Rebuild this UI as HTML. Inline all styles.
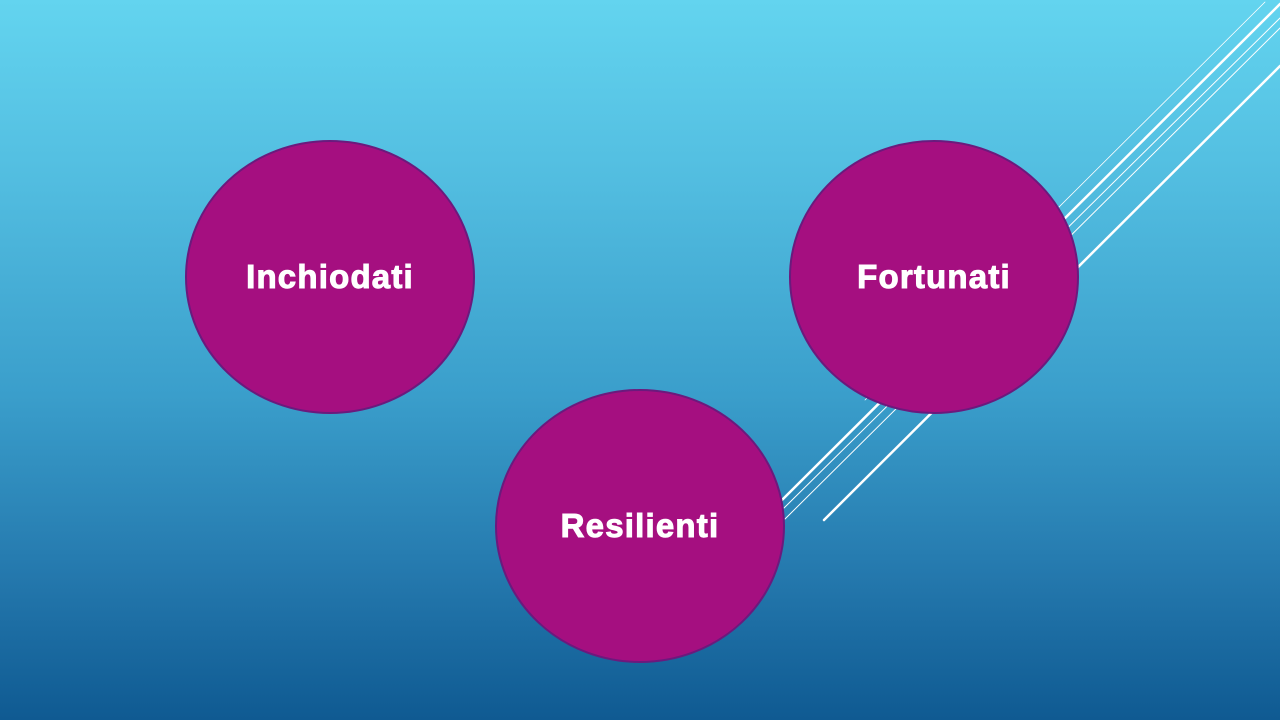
<!DOCTYPE html>
<html><head><style>
html,body{margin:0;padding:0;}
body{width:1280px;height:720px;overflow:hidden;background:linear-gradient(to bottom,#63d4ef 0%,#52bde0 25%,#3a9ecb 55%,#2478ad 80%,#0f5a92 100%);}
svg{position:absolute;left:0;top:0;}
</style></head><body>
<svg width="1280" height="720" viewBox="0 0 1280 720">
<g stroke="#ffffff" stroke-linecap="round">
<line x1="782" y1="500" x2="1280" y2="4" stroke-width="2.5"/>
<line x1="784" y1="508" x2="1280" y2="18" stroke-width="1"/>
<line x1="785" y1="519" x2="1280" y2="28" stroke-width="1"/>
<line x1="865" y1="400" x2="1265" y2="2" stroke-width="0.8"/>
<line x1="824" y1="520" x2="1280" y2="66" stroke-width="2.5"/>
</g>
<g fill="#a50f80" stroke="#6b1a7d" stroke-width="2">
<ellipse cx="330" cy="277" rx="144" ry="136"/>
<ellipse cx="934" cy="277" rx="144" ry="136"/>
<ellipse cx="640" cy="526" rx="144" ry="136"/>
</g>
<g fill="#ffffff" stroke="#ffffff" stroke-width="1" font-family="Liberation Sans, sans-serif" font-weight="bold" font-size="33" letter-spacing="1.2" text-anchor="middle">
<text x="330" y="288">Inchiodati</text>
<text x="934" y="288">Fortunati</text>
<text x="640" y="537">Resilienti</text>
</g>
</svg>
</body></html>
